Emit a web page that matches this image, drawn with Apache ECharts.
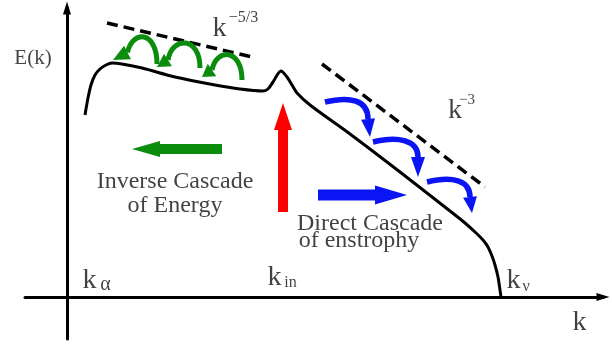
<!DOCTYPE html>
<html><head><meta charset="utf-8">
<script src="https://cdn.jsdelivr.net/npm/echarts@6/dist/echarts.min.js"></script>
<style>html,body{margin:0;padding:0;background:#fff}#c{width:612px;height:345px}</style>
</head><body><div id="c"></div>
<script>
// Schematic axis units (origin at the axes crossing)
const spectrumK = [18,21,24,28,33,39,45,55,75,108,148,173,196,201,206,214,220,225,230,243,283,333,383,398,408,416,421,425,428,431,433,434];
const spectrumE = [182,199,212,222,228,232,234,233,229,220,212,208,206,208,215,226,220,212,204,192,163,125,86,74,65,57,50,41,32,20,7,0];

const inertialSlope = [[40,274],[185,240]];   // k^-5/3 guide
const enstrophySlope = [[255,233],[418,110]]; // k^-3 guide

// big cascade arrows: [tailK, tailE, tipK, tipE]
const cascadeArrows = [[155,148,65,148],[216,85,216,194],[251,102,340,102]];

// curved transfer arrows: [startK,startE, c1K,c1E, c2K,c2E, baseK,baseE, tipK,tipE]
const inverseHops = [
  [90,233, 90,267, 65,267, 60.5,244.5, 46,237],
  [133,229, 133,261, 105,261, 101,237, 90,230],
  [175,217, 175,249, 149,249, 145,227, 135,220]
];
const directHops = [
  [258,195, 283,201, 301,197, 301,178, 303,160],
  [306,155, 331,161, 351,157, 351,140, 351,120],
  [360,115, 385,121, 403,117, 403,100, 405,84]
];

// annotation texts and their anchor points
const noteText = ['E(k)','k','\u22125/3','k','\u22123','Inverse Cascade','of Energy','Direct Cascade','of enstrophy','k','\u03b1','k','in','k','\u03bd','k'];
const noteK = [-34,152.5,176.5,388,400,108,108,303,292,22.5,38.5,207.5,223.5,446.5,459,512.5];
const noteE = [239,268.5,279,186.5,197,115,91,73,56,16.5,12,19.5,14.5,16.5,10.5,-25.5];
const noteSize = [21,28,16,28,15,24,24,24,24,28,20,28,16,28,16,28];

const FONT = "'Liberation Serif','Times New Roman',serif";
const chart = echarts.init(document.getElementById('c'), null, {renderer:'canvas'});

const blockStyle = [
  {color:'#0c8c0c', sw:10, hw:16, hl:28},
  {color:'#ff0000', sw:10, hw:18, hl:27},
  {color:'#0a14f5', sw:11, hw:19, hl:32}
];

function blockArrow(params, api){
  const s = blockStyle[params.dataIndex];
  const p0 = api.coord([api.value(0), api.value(1)]);
  const p1 = api.coord([api.value(2), api.value(3)]);
  const dx=p1[0]-p0[0], dy=p1[1]-p0[1], L=Math.hypot(dx,dy);
  const ux=dx/L, uy=dy/L, nx=-uy, ny=ux;
  const bx=p1[0]-ux*s.hl, by=p1[1]-uy*s.hl, a=s.sw/2, b=s.hw/2;
  const pts=[[p0[0]+nx*a,p0[1]+ny*a],[bx+nx*a,by+ny*a],[bx+nx*b,by+ny*b],[p1[0],p1[1]],[bx-nx*b,by-ny*b],[bx-nx*a,by-ny*a],[p0[0]-nx*a,p0[1]-ny*a]];
  return {type:'polygon', shape:{points:pts}, style:{fill:s.color}};
}
function hopRenderer(color, lw, hw){
  return function(params, api){
    const P=[];
    for(let i=0;i<5;i++) P.push(api.coord([api.value(2*i), api.value(2*i+1)]));
    const B=P[3], T=P[4];
    const dx=T[0]-B[0], dy=T[1]-B[1], L=Math.hypot(dx,dy);
    const nx=-dy/L*hw/2, ny=dx/L*hw/2;
    return {type:'group', children:[
      {type:'bezierCurve', shape:{x1:P[0][0],y1:P[0][1],cpx1:P[1][0],cpy1:P[1][1],cpx2:P[2][0],cpy2:P[2][1],x2:B[0],y2:B[1]},
       style:{stroke:color, lineWidth:lw, fill:null}},
      {type:'polygon', shape:{points:[[T[0],T[1]],[B[0]+nx,B[1]+ny],[B[0]-nx,B[1]-ny]]}, style:{fill:color}}
    ]};
  };
}

const notes = noteText.map((t,i)=>({value:[noteK[i], noteE[i]], label:{formatter:t, fontSize:noteSize[i]}}));

chart.setOption({
  animation:false,
  grid:{left:25, right:9, top:8, bottom:6},
  xAxis:{type:'value', min:-42, max:536, splitLine:{show:false}, axisTick:{show:false}, axisLabel:{show:false},
    axisLine:{onZero:true, lineStyle:{color:'#000', width:3}, symbol:['none','triangle'], symbolSize:[8,13]}},
  yAxis:{type:'value', min:-42, max:289, splitLine:{show:false}, axisTick:{show:false}, axisLabel:{show:false},
    axisLine:{onZero:true, lineStyle:{color:'#000', width:3}, symbol:['none','triangle'], symbolSize:[8,13]}},
  series:[
    {type:'line', data:spectrumK.map((k,i)=>[k, spectrumE[i]]), smooth:0.3, symbol:'none',
     lineStyle:{color:'#000', width:3}, z:3},
    {type:'line', data:inertialSlope, symbol:'none', lineStyle:{color:'#000', width:3.5, type:[11,6]}},
    {type:'line', data:enstrophySlope, symbol:'none', lineStyle:{color:'#000', width:3.5, type:[11,6]}},
    {type:'custom', renderItem:blockArrow, data:cascadeArrows, encode:{x:[0,2], y:[1,3]}, clip:false, z:4},
    {type:'custom', renderItem:hopRenderer('#0c8c0c',5,15), data:inverseHops, encode:{x:[0,2,4,6,8], y:[1,3,5,7,9]}, clip:false, z:4},
    {type:'custom', renderItem:hopRenderer('#0a14f5',5.5,14), data:directHops, encode:{x:[0,2,4,6,8], y:[1,3,5,7,9]}, clip:false, z:4},
    {type:'scatter', data:notes, symbolSize:1, itemStyle:{color:'rgba(0,0,0,0)'}, silent:true, z:5,
     label:{show:true, position:'inside', color:'#111', fontFamily:FONT, fontWeight:'normal'}}
  ]
});
</script></body></html>
